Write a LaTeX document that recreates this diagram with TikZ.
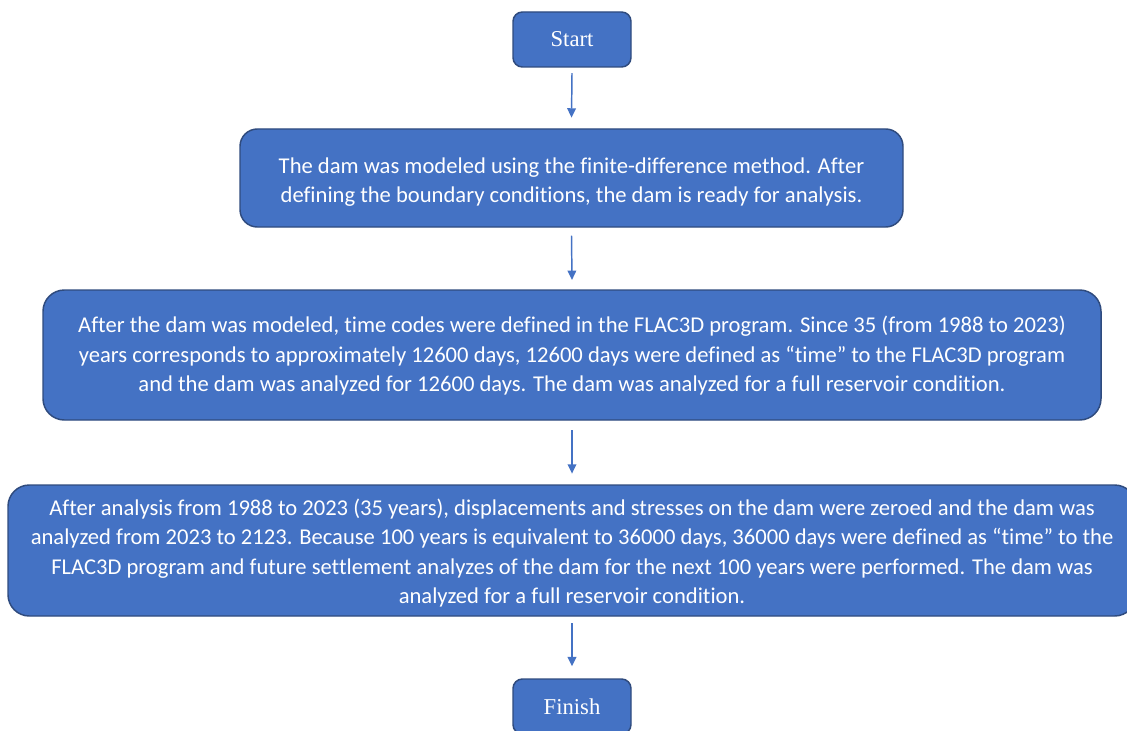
\documentclass[tikz,border=0pt]{standalone}
\usepackage{fontspec}
\setmainfont{Liberation Serif}
\newfontfamily\bodyfont[Ligatures=NoCommon]{Carlito}
\usetikzlibrary{arrows.meta}
\definecolor{boxfill}{HTML}{4472C4}
\definecolor{boxline}{HTML}{2F4B7E}
\newcommand{\boxText}[0]{\bodyfont\fontsize{16.95}{22.2}\selectfont}
\newcommand{\lowerText}[2]{\raisebox{-#1}[\height][\depth]{\begin{tabular}{@{}c@{}}#2\end{tabular}}}

\begin{document}
\begin{tikzpicture}[x=0.75pt, y=-0.75pt]
  \tikzset{
    flowbox/.style={draw=boxline, fill=boxfill, line width=1.1pt,
      text=white, align=center, inner sep=0pt},
    termbox/.style={flowbox, minimum width=88.5pt, minimum height=41.25pt,
      rounded corners=7pt, font=\fontsize{17}{20}\selectfont},
    stepbox/.style={flowbox, rounded corners=16pt, font=\boxText},
    flowarrow/.style={draw=boxfill, line width=1.1pt,
      -{Triangle[width=6.5pt, length=7pt]}}
  }
  \useasboundingbox (0,0) rectangle (1127,731);
  \clip (0,0) rectangle (1127,731);

  \node[termbox] (start) at (572,39.5) {Start};
  \node[stepbox, minimum width=497.25pt, minimum height=73.5pt, rounded corners=13pt]
    (model) at (571.5,178)
    {\lowerText{3pt}{The dam was modeled using the finite-difference method. After\\
     defining the boundary conditions, the dam is ready for analysis.}};
  \node[stepbox, minimum width=793.5pt, minimum height=97.5pt]
    (codes) at (572,355)
    {\lowerText{1pt}{After the dam was modeled, time codes were defined in the FLAC3D program. Since 35 (from 1988 to 2023)\\
     years corresponds to approximately 12600 days, 12600 days were defined as “time” to the FLAC3D program\\
     and the dam was analyzed for 12600 days. The dam was analyzed for a full reservoir condition.}};
  \node[stepbox, minimum width=846pt, minimum height=98.25pt]
    (future) at (572,550.5)
    {\lowerText{2.25pt}{After analysis from 1988 to 2023 (35 years), displacements and stresses on the dam were zeroed and the dam was\\
     analyzed from 2023 to 2123. Because 100 years is equivalent to 36000 days, 36000 days were defined as “time” to the\\
     FLAC3D program and future settlement analyzes of the dam for the next 100 years were performed. The dam was\\
     analyzed for a full reservoir condition.}};
  \node[termbox] (finish) at (572,706.5) {Finish};

  % connectors
  \draw[flowarrow] ([yshift=-4pt]start.south) -- ([yshift=8pt]model.north);
  \draw[flowarrow] ([yshift=-6pt]model.south) -- ([yshift=7pt]codes.north);
  \draw[flowarrow] ([yshift=-7pt]codes.south) -- ([yshift=8pt]future.north);
  \draw[flowarrow] ([yshift=-5pt]future.south) -- ([yshift=9pt]finish.north);
\end{tikzpicture}
\end{document}
